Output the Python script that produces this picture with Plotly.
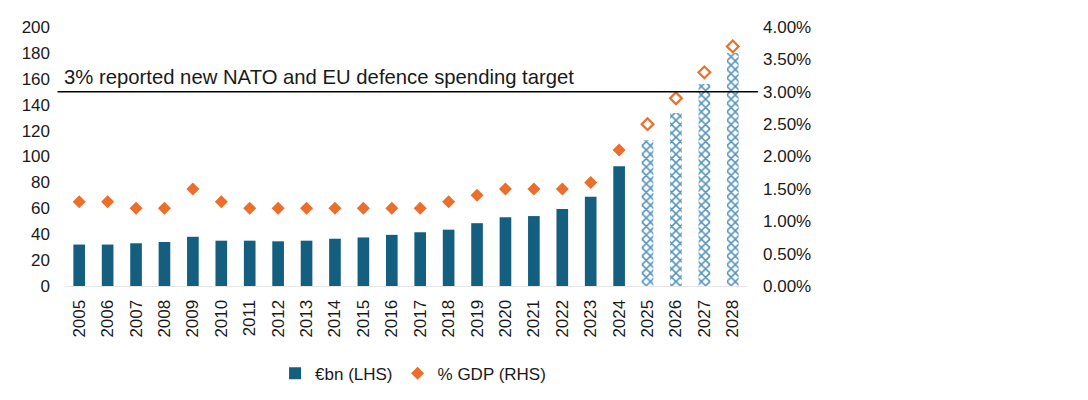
import plotly.graph_objects as go

years = [str(y) for y in range(2005, 2029)]
eur_bn = [32, 32, 33, 34, 38, 35, 35, 34.5, 35, 36.5, 37.5, 39.5, 41.5, 43.5, 48.5, 53, 54, 59.5, 69, 92.5, 112.5, 133.5, 156, 180]
gdp_pct = [1.3, 1.3, 1.2, 1.2, 1.5, 1.3, 1.2, 1.2, 1.2, 1.2, 1.2, 1.2, 1.2, 1.3, 1.4, 1.5, 1.5, 1.5, 1.6, 2.1, 2.5, 2.9, 3.3, 3.7]
n_actual = 20  # 2005-2024 actual, 2025-2028 projected
target_eur = 150
target_label = "3% reported new NATO and EU defence spending target"

DARK = "#145E80"
LIGHT = "#5394BC"
ORANGE = "#EB6E2B"
FONT = "Liberation Sans, Arial, sans-serif"
TXT = "#1a1a1a"

fig = go.Figure()
fig.add_trace(go.Bar(
    x=years[:n_actual], y=eur_bn[:n_actual], name="€bn (LHS)",
    marker=dict(color=DARK, line=dict(width=0)), width=0.41,
))
fig.add_trace(go.Bar(
    x=years[n_actual:], y=eur_bn[n_actual:], name="€bn proj", showlegend=False,
    marker=dict(color=LIGHT, line=dict(width=0),
                pattern=dict(shape="x", fillmode="replace", bgcolor="white",
                             fgcolor=LIGHT, size=6, solidity=0.45)),
    width=0.41,
))
fig.add_trace(go.Scatter(
    x=years[:n_actual], y=gdp_pct[:n_actual], name="% GDP (RHS)", yaxis="y2",
    mode="markers", marker=dict(symbol="diamond", size=10, color=ORANGE, line=dict(width=0)),
))
fig.add_trace(go.Scatter(
    x=years[n_actual:], y=gdp_pct[n_actual:], name="% GDP proj", yaxis="y2", showlegend=False,
    mode="markers", marker=dict(symbol="diamond", size=9, color="white", line=dict(width=2.2, color=ORANGE)),
))

fig.add_shape(type="line", xref="paper", yref="y", x0=-0.011, x1=1.016, y0=target_eur, y1=target_eur,
              line=dict(color="black", width=1.6))
fig.add_annotation(xref="paper", yref="y", x=-0.005, y=target_eur, xanchor="left", yanchor="bottom",
                   text=target_label, showarrow=False, yshift=2,
                   font=dict(family=FONT, size=20.3, color=TXT))

fig.update_layout(
    width=1080, height=392,
    margin=dict(l=57, r=341, t=19, b=114, autoexpand=False),
    paper_bgcolor="white", plot_bgcolor="white",
    barmode="overlay", bargap=0.59,
    font=dict(family=FONT, size=17, color=TXT),
    showlegend=True,
    legend=dict(orientation="h", x=0.308, xanchor="left", y=-0.269, yanchor="top",
                font=dict(family=FONT, size=17, color=TXT), itemwidth=30),
    xaxis=dict(type="category", range=[-0.5, 23.5], tickangle=-90, showgrid=False, showline=True,
               linecolor="#E6E6E6", ticks="", tickfont=dict(size=17), ticklabelstandoff=6),
    yaxis=dict(range=[0, 200], dtick=20, showgrid=False, zeroline=False, showline=False, ticks="",
               tickfont=dict(size=17), ticklabelstandoff=14),
    yaxis2=dict(range=[0, 4], dtick=0.5, overlaying="y", side="right", showgrid=False, zeroline=False,
                tickformat=".2f", ticksuffix="%", ticks="", tickfont=dict(size=17), ticklabelstandoff=15),
)

fig.write_html("out.html")
